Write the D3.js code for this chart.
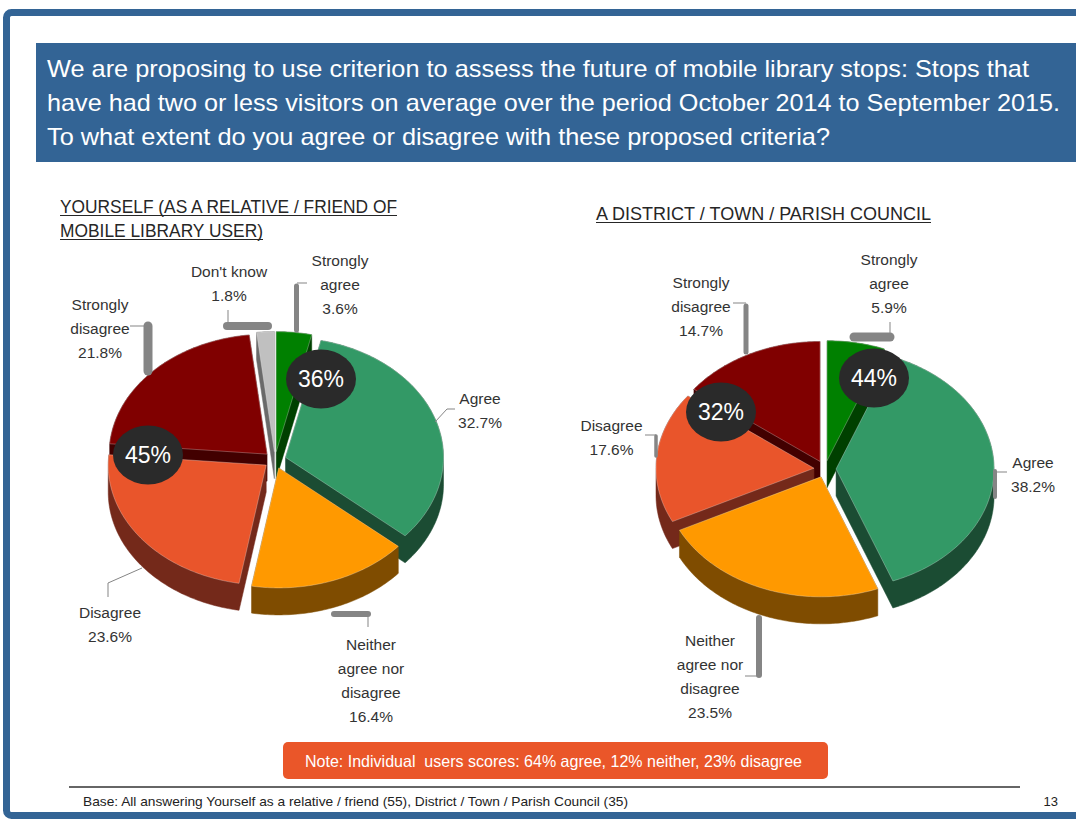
<!DOCTYPE html>
<html>
<head>
<meta charset="utf-8">
<script src="https://cdn.jsdelivr.net/npm/d3@7"></script>
<style>
  html, body { margin: 0; padding: 0; background: #ffffff; }
  svg { display: block; }
</style>
</head>
<body>
<svg id="chart" width="1076" height="821"></svg>
<script>
// ---- Survey results (percent of respondents), clockwise from 12 o'clock ----
const categoriesRelative = ["Strongly agree", "Agree", "Neither agree nor disagree", "Disagree", "Strongly disagree", "Don't know"];
const valuesRelative     = [3.6, 32.7, 16.4, 23.6, 21.8, 1.8];

const categoriesCouncil  = ["Strongly agree", "Agree", "Neither agree nor disagree", "Disagree", "Strongly disagree"];
const valuesCouncil      = [5.9, 38.2, 23.5, 17.6, 14.7];

// Label wording for each category (value line is added below it)
const categoryLabelLines = {
  "Strongly agree": ["Strongly", "agree"],
  "Agree": ["Agree"],
  "Neither agree nor disagree": ["Neither", "agree nor", "disagree"],
  "Disagree": ["Disagree"],
  "Strongly disagree": ["Strongly", "disagree"],
  "Don't know": ["Don't know"]
};

// Net scores shown in the dark badges: categories summed per badge
const netAgreeMembers    = ["Strongly agree", "Agree"];
const netDisagreeMembers = ["Disagree", "Strongly disagree"];

const titleLines = [
  "We are proposing to use criterion to assess the future of mobile library stops: Stops that",
  "have had two or less visitors on average over the period October 2014 to September 2015.",
  "To what extent do you agree or disagree with these proposed criteria?"
];
const subtitleRelative = ["YOURSELF (AS A RELATIVE / FRIEND OF", "MOBILE LIBRARY USER)"];
const subtitleCouncil  = ["A DISTRICT / TOWN / PARISH COUNCIL"];
const noteText = "Note: Individual  users scores: 64% agree, 12% neither, 23% disagree";
const baseText = "Base: All answering Yourself as a relative / friend (55), District / Town / Parish Council (35)";
const pageNumber = "13";

// ---- Styling ----
const topColor = d3.scaleOrdinal()
  .domain(categoriesRelative)
  .range(["#008000", "#339966", "#FF9900", "#E9552B", "#800000", "#C0C0C0"]);
const sideColor = d3.scaleOrdinal()
  .domain(categoriesRelative)
  .range(["#004000", "#1B4C33", "#7F4C00", "#74291A", "#420000", "#6A6A6A"]);

const blue = "#336495";
const labelColor = "#333333";
const leaderColor = "#858585";
const labelFont = "'Liberation Sans', Arial, sans-serif";
const narrowFont = "'Liberation Sans Narrow', 'Arial Narrow', 'Liberation Sans', Arial, sans-serif";

// 3D pie geometry: elliptical top face, extrusion depth, explode fraction
const geom = { rx: 158, ry: 120, depth: 27, explode: 0.07 };

// Label layout for each pie: offsets from the pie centre
const layoutRelative = {
  cx: 275, cy: 460,
  badges: [
    { members: netAgreeMembers, dx: 46, dy: -81 },
    { members: netDisagreeMembers, dx: -127, dy: -5 }
  ],
  labels: {
    "Strongly agree": { x: 65, y: -194.5, leaders: [
      { w: 1, pts: [[32, -177], [22, -177]] },
      { w: 5, pts: [[21.5, -174], [21.5, -130]] } ] },
    "Don't know": { x: -46, y: -183.5, leaders: [
      { w: 1, pts: [[-47, -150], [-47, -138]] },
      { w: 8, pts: [[-48, -134], [-7, -134]] } ] },
    "Strongly disagree": { x: -175, y: -150.5, leaders: [
      { w: 1, pts: [[-145, -134], [-131, -134]] },
      { w: 9, pts: [[-127, -134], [-127, -89]] } ] },
    "Agree": { x: 205, y: -56.5, leaders: [
      { w: 1, pts: [[180, -51], [172, -51], [160, -38]] } ] },
    "Disagree": { x: -165, y: 157.5, leaders: [
      { w: 1, pts: [[-167, 137], [-167, 123], [-133, 108]] } ] },
    "Neither agree nor disagree": { x: 96, y: 189.5, leaders: [
      { w: 6, pts: [[59, 154], [93, 154]] },
      { w: 1, pts: [[93, 156], [93, 167]] } ] }
  }
};

const layoutCouncil = {
  cx: 825, cy: 469,
  badges: [
    { members: netAgreeMembers, dx: 49, dy: -91 },
    { members: netDisagreeMembers, dx: -104, dy: -57 }
  ],
  labels: {
    "Strongly agree": { x: 64, y: -204.5, leaders: [
      { w: 1, pts: [[65, -147], [65, -136]] },
      { w: 9, pts: [[29, -132], [65, -132]] } ] },
    "Strongly disagree": { x: -124, y: -181.5, leaders: [
      { w: 1, pts: [[-92, -166], [-79, -166]] },
      { w: 5, pts: [[-79, -163], [-79, -117]] } ] },
    "Disagree": { x: -213.5, y: -38.5, leaders: [
      { w: 1, pts: [[-180, -34], [-169, -34]] },
      { w: 3.5, pts: [[-169, -33], [-169, -13]] } ] },
    "Agree": { x: 208, y: -1.5, leaders: [
      { w: 4, pts: [[170, 2], [170, 28]] },
      { w: 1, pts: [[171, 3], [182, 3]] } ] },
    "Neither agree nor disagree": { x: -115, y: 176.5, leaders: [
      { w: 6, pts: [[-66, 149], [-66, 206]] },
      { w: 1, pts: [[-67, 207], [-80, 207]] } ] }
  }
};

const svg = d3.select("#chart");

// ---- Slide frame and title banner ----
svg.append("rect")
  .attr("x", 6.5).attr("y", 12.5).attr("width", 1100).attr("height", 803)
  .attr("rx", 5).attr("fill", "#ffffff")
  .attr("stroke", blue).attr("stroke-width", 7);

svg.append("rect")
  .attr("x", 36).attr("y", 43).attr("width", 1100).attr("height", 119)
  .attr("fill", blue);

const titleWidths = [982, 1013, 783];
svg.append("g").selectAll("text").data(titleLines).join("text")
  .attr("x", 47)
  .attr("y", (d, i) => 77 + i * 34)
  .attr("fill", "#ffffff")
  .attr("font-family", narrowFont)
  .attr("font-size", 24)
  .attr("textLength", (d, i) => titleWidths[i])
  .attr("lengthAdjust", "spacingAndGlyphs")
  .text(d => d);

// ---- Section headings (underlined) ----
function heading(lines, x, y0, widths) {
  const g = svg.append("g");
  lines.forEach((t, i) => {
    const y = y0 + i * 24;
    g.append("text")
      .attr("x", x).attr("y", y)
      .attr("fill", "#262626")
      .attr("font-family", narrowFont)
      .attr("font-size", 17.5)
      .attr("textLength", widths[i])
      .attr("lengthAdjust", "spacingAndGlyphs")
      .text(t);
    g.append("line")
      .attr("x1", x).attr("x2", x + widths[i])
      .attr("y1", y + 2.5).attr("y2", y + 2.5)
      .attr("stroke", "#262626").attr("stroke-width", 1);
  });
}
heading(subtitleRelative, 60, 213, [337, 203]);
heading(subtitleCouncil, 596, 220, [335]);

// ---- 3D exploded pies ----
const pieLayout = d3.pie().sort(null).value(d => d.value);
const toPath = pts => "M" + pts.map(p => p[0].toFixed(2) + "," + p[1].toFixed(2)).join("L") + "Z";

function drawPie(categories, values, layout) {
  const data = categories.map((c, i) => ({ category: c, value: values[i] }));
  const arcs = pieLayout(data);
  const g = svg.append("g").attr("transform", `translate(${layout.cx},${layout.cy})`);

  arcs.forEach(a => {
    const mid = (a.startAngle + a.endAngle) / 2;
    const ox = geom.explode * geom.rx * Math.sin(mid);
    const oy = -geom.explode * geom.ry * Math.cos(mid);
    const span = a.endAngle - a.startAngle;
    const n = Math.max(2, Math.ceil(span / (Math.PI / 180)));
    const rim = d3.range(n + 1).map(k => {
      const t = a.startAngle + span * k / n;
      return [ox + geom.rx * Math.sin(t), oy - geom.ry * Math.cos(t)];
    });
    a.top = [[ox, oy], ...rim];
    // extruded body: hull of top face and its copy shifted down by the depth
    a.body = d3.polygonHull(a.top.concat(a.top.map(p => [p[0], p[1] + geom.depth])));
    a.order = -Math.cos(mid);
  });

  // paint back slices first
  const ordered = arcs.slice().sort((a, b) => a.order - b.order);
  ordered.forEach(a => {
    const s = g.append("g");
    s.append("path")
      .attr("d", toPath(a.body))
      .attr("fill", sideColor(a.data.category))
      .attr("stroke", sideColor(a.data.category))
      .attr("stroke-width", 0.5);
    s.append("path")
      .attr("d", toPath(a.top))
      .attr("fill", topColor(a.data.category))
      .attr("stroke", "rgba(255,255,255,0.35)")
      .attr("stroke-width", 0.8)
      .attr("stroke-linejoin", "round");
  });

  // leader lines
  const lg = g.append("g").attr("fill", "none").attr("stroke", leaderColor).attr("stroke-linecap", "round");
  arcs.forEach(a => {
    const lab = layout.labels[a.data.category];
    lab.leaders.forEach(l => {
      lg.append("path")
        .attr("d", "M" + l.pts.map(p => p.join(",")).join("L"))
        .attr("stroke-width", l.w)
        .attr("stroke-linecap", l.w > 1 ? "round" : "butt")
        .attr("stroke-linejoin", "miter");
    });
  });

  // category labels with their values
  arcs.forEach(a => {
    const lab = layout.labels[a.data.category];
    const lines = categoryLabelLines[a.data.category].concat([a.data.value.toFixed(1) + "%"]);
    g.append("text")
      .attr("text-anchor", "middle")
      .attr("fill", labelColor)
      .attr("font-family", labelFont)
      .attr("font-size", 15.5)
      .selectAll("tspan").data(lines).join("tspan")
      .attr("x", lab.x)
      .attr("y", (d, i) => lab.y + i * 24)
      .text(d => d);
  });

  // net agree / disagree badges
  layout.badges.forEach(b => {
    const total = d3.sum(data.filter(d => b.members.includes(d.category)), d => d.value);
    const bg = g.append("g").attr("transform", `translate(${b.dx},${b.dy})`);
    bg.append("ellipse").attr("rx", 35).attr("ry", 29.5).attr("fill", "#2A2A2A");
    bg.append("text")
      .attr("text-anchor", "middle")
      .attr("y", 8)
      .attr("fill", "#ffffff")
      .attr("font-family", labelFont)
      .attr("font-size", 23)
      .text(Math.round(total) + "%");
  });
}

drawPie(categoriesRelative, valuesRelative, layoutRelative);
drawPie(categoriesCouncil, valuesCouncil, layoutCouncil);

// ---- Note banner ----
svg.append("rect")
  .attr("x", 283).attr("y", 742).attr("width", 545).attr("height", 37)
  .attr("rx", 5).attr("fill", "#EA5629");
svg.append("text")
  .attr("x", 305).attr("y", 767)
  .attr("fill", "#ffffff")
  .attr("font-family", narrowFont)
  .attr("font-size", 16.5)
  .attr("textLength", 497)
  .attr("lengthAdjust", "spacingAndGlyphs")
  .style("white-space", "pre")
  .text(noteText);

// ---- Footer ----
svg.append("line")
  .attr("x1", 69).attr("x2", 1020).attr("y1", 787).attr("y2", 787)
  .attr("stroke", "#333333").attr("stroke-width", 1.5);
svg.append("text")
  .attr("x", 83).attr("y", 806)
  .attr("fill", "#222222")
  .attr("font-family", narrowFont)
  .attr("font-size", 13)
  .attr("textLength", 545)
  .attr("lengthAdjust", "spacingAndGlyphs")
  .text(baseText);
svg.append("text")
  .attr("x", 1058).attr("y", 806)
  .attr("text-anchor", "end")
  .attr("fill", "#222222")
  .attr("font-family", labelFont)
  .attr("font-size", 13)
  .text(pageNumber);
</script>
</body>
</html>
